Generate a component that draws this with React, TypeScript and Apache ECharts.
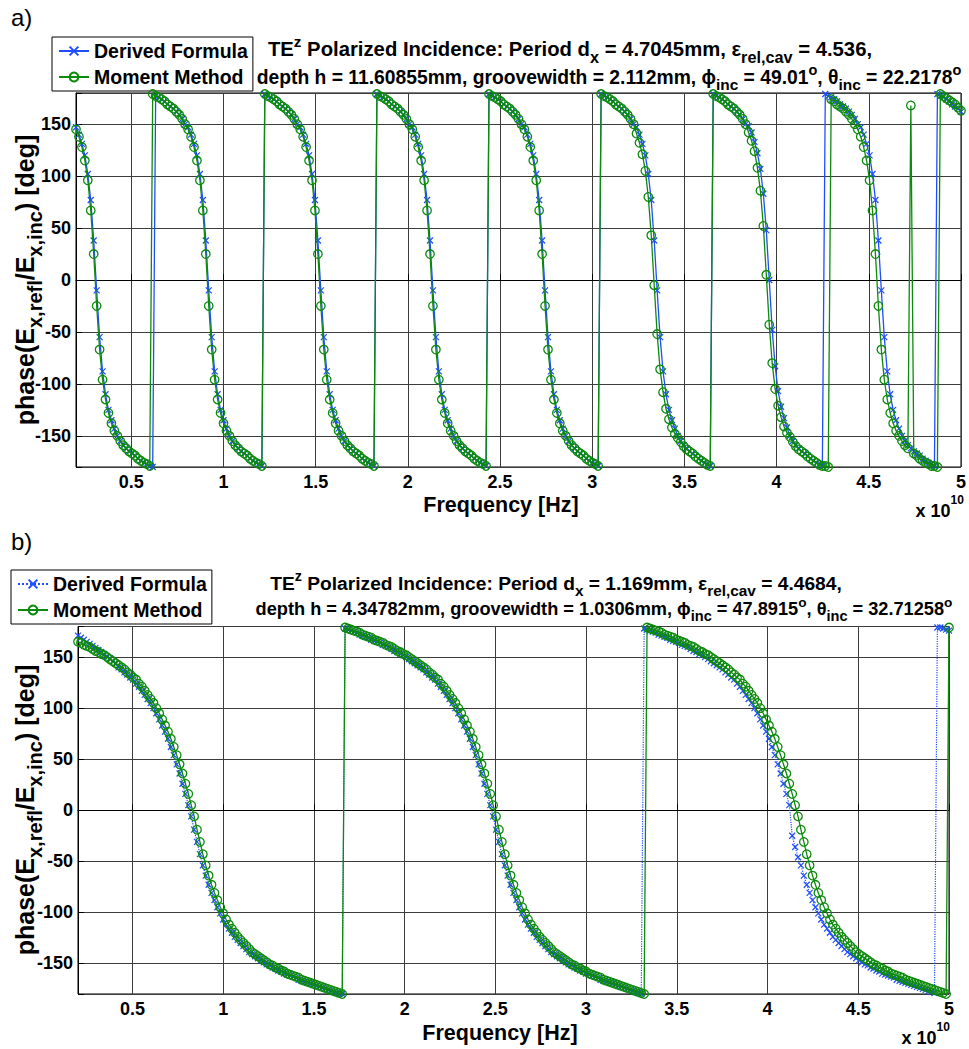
import React, { useEffect, useRef } from 'react';
import * as echarts from 'echarts';

// Frequency sweep (units of 10^10 Hz): 301 samples from 0.2 to 5.0
const FREQ_START = 0.2;
const FREQ_STEP = 0.016;
const N_POINTS = 301;

// Panel a) phase values [deg]
const DERIVED_A = [
  147,140,131,120,102,77,38,-10,-55,-88,-110,-125,-135,-143,
  -150,-155,-159,-162,-165,-167,-169,-172,-174,-176,-177,-179,
  -180,
  177,176,174,172,169,167,165,162,159,155,150,147,140,131,120,102,77,38,-10,-55,-88,-110,-125,-135,-143,-150,-155,-159,-162,-165,-167,-169,-172,-174,-176,-177,-179,
  179,177,176,174,172,169,167,165,162,159,155,150,147,140,131,120,102,77,38,-10,-55,-88,-110,-125,-135,-143,-150,-155,-159,-162,-165,-167,-169,-172,-174,-176,-177,-179,
  179,177,176,174,172,169,167,165,162,159,155,150,147,140,131,120,102,77,38,-10,-55,-88,-110,-125,-135,-143,-150,-155,-159,-162,-165,-167,-169,-172,-174,-176,-177,-179,
  179,177,176,174,172,169,167,165,162,159,155,150,147,140,131,120,102,77,38,-10,-55,-88,-110,-125,-135,-143,-150,-155,-159,-162,-165,-167,-169,-172,-174,-176,-177,-179,
  179,177,176,174,172,169,167,165,162,159,155,150,147,140,131,120,102,77,38,-10,-55,-88,-110,-125,-135,-143,-150,-155,-159,-162,-165,-167,-169,-172,-174,-176,-177,-179,
  179,177,176,174,172,169,167,165,162,159,155,150,148,142,133,122,107,83,48,0,-48,-83,-107,-122,-133,-142,-150,-155,-159,-162,-165,-167,-169,-172,-174,-176,-177,-179,
  179,177,176,174,172,169,167,165,162,159,155,150,147,140,131,120,102,77,38,-10,-55,-88,-110,-125,-135,-143,-150,-155,-159,-162,-165,-167,-169,-172,-174,-176,-177,-179,
  179,177,176,174,172,169,167,165,162,
];

const MOMENT_A = [
  145,138,128,115,96,67,25,-25,-67,-96,-115,-128,-138,-145,-150,-155,-159,-162,-165,-167,-169,-172,-174,-176,-177,-179,
  179,177,176,174,172,169,167,165,162,159,155,150,145,138,128,115,96,67,25,-25,-67,-96,-115,-128,-138,-145,-150,-155,-159,-162,-165,-167,-169,-172,-174,-176,-177,-179,
  179,177,176,174,172,169,167,165,162,159,155,150,145,138,128,115,96,67,25,-25,-67,-96,-115,-128,-138,-145,-150,-155,-159,-162,-165,-167,-169,-172,-174,-176,-177,-179,
  179,177,176,174,172,169,167,165,162,159,155,150,145,138,128,115,96,67,25,-25,-67,-96,-115,-128,-138,-145,-150,-155,-159,-162,-165,-167,-169,-172,-174,-176,-177,-179,
  179,177,176,174,172,169,167,165,162,159,155,150,145,138,128,115,96,67,25,-25,-67,-96,-115,-128,-138,-145,-150,-155,-159,-162,-165,-167,-169,-172,-174,-176,-177,-179,
  179,177,176,174,172,169,167,165,162,159,155,150,141,132,121,105,80,43,-5,-52,-86,-108,-124,-134,-142,-148,-152,-156,-160,-163,-165,-167,-170,-172,-174,-176,-178,-179,
  179,177,176,174,172,169,167,165,162,159,155,150,142,134,124,108,86,52,5,-43,-80,-105,-121,-132,-141,-147,-151,-156,-160,-163,-165,-167,-170,-172,-174,-176,-178,-179,
  -179,-180,
  174,172,169,167,165,162,159,155,150,145,138,128,115,96,67,25,-25,-67,-96,-115,-128,-138,-145,-150,-155,-159,-162,168,-167,-169,-172,-174,-176,-177,-179,
  -179,-180,179,177,175,173,171,169,166,163,
];

// Panel b) phase values [deg]
const DERIVED_B = [
  171,169,167,165,163,161,159,157,155,153,151,149,146,144,
  140,138,135,133,130,128,124,121,117,113,109,105,100,95,89,83,77,70,62,54,45,36,26,16,5,
  -6,-19,-31,-43,-54,-64,-73,-81,-88,-95,-101,-107,-112,-116,-120,-124,-127,-130,-133,-136,-139,-141,-143,-145,-147,-149,-151,-152,-154,-155,-157,-158,-160,-161,-162,-163,-164,-166,-167,-168,-169,-170,-171,-172,-173,-174,-175,-176,-177,-178,-179,-180,
  -180,
  178,177,176,175,174,172,171,170,169,167,166,165,164,162,161,160,158,156,155,153,152,150,148,146,144,142,140,138,135,133,130,128,124,121,117,113,109,105,100,95,89,83,77,70,62,54,45,36,26,16,5,
  -6,-19,-31,-43,-54,-64,-73,-81,-88,-95,-101,-107,-112,-116,-120,-124,-127,-130,-133,-136,-139,-141,-143,-145,-147,-149,-151,-152,-154,-155,-157,-158,-160,-161,-162,-163,-164,-166,-167,-168,-169,-170,-171,-172,-173,-174,-175,-176,-177,-178,-179,-180,
  178,177,176,175,174,172,171,170,169,167,166,165,164,162,161,160,158,156,155,153,152,150,148,146,144,142,140,138,135,133,130,128,124,121,117,113,109,105,100,95,89,83,77,70,62,54,45,36,26,16,5,
  -25,-36,-46,
  -54,-64,-73,-81,-88,-95,-101,-107,-112,-116,-120,-124,-127,-130,-133,-136,-139,-141,-143,-145,-147,-149,-151,-152,-154,-155,-157,-158,-160,-161,-162,-163,-164,-166,-167,-168,-169,-170,-171,-172,-173,-174,-175,-176,-177,-178,-179,
  179,179,178,177,176,
];

const MOMENT_B = [
  165,164,162,161,160,158,156,155,153,152,150,148,146,144,142,140,138,135,133,130,128,124,121,117,113,109,105,100,95,89,83,77,70,62,54,45,36,26,16,5,
  -6,-19,-31,-43,-54,-64,-73,-81,-88,-95,-101,-107,-112,-116,-120,-124,-127,-130,-133,-136,-139,-141,-143,-145,-147,-149,-151,-152,-154,-155,-157,-158,-160,-161,-162,-163,-164,-166,-167,-168,-169,-170,-171,-172,-173,-174,-175,-176,-177,-178,-179,-180,
  179,178,177,176,175,174,172,171,170,169,167,166,165,164,162,161,160,158,156,155,153,152,150,148,146,144,142,140,138,135,133,130,128,124,121,117,113,109,105,100,95,89,83,77,70,62,54,45,36,26,16,5,
  -6,-19,-31,-43,-54,-64,-73,-81,-88,-95,-101,-107,-112,-116,-120,-124,-127,-130,-133,-136,-139,-141,-143,-145,-147,-149,-151,-152,-154,-155,-157,-158,-160,-161,-162,-163,-164,-166,-167,-168,-169,-170,-171,-172,-173,-174,-175,-176,-177,-178,-179,-180,
  179,178,177,176,175,174,172,171,170,169,167,166,165,164,162,161,160,158,156,155,153,152,150,148,146,144,142,140,138,135,133,130,128,124,121,117,113,109,105,100,95,89,83,77,70,62,54,45,36,26,16,5,
  -6,-19,-31,-43,-54,-64,-73,-81,-88,-95,-101,-107,-112,-116,-120,-124,-127,-130,-133,-136,-139,-141,-143,-145,-147,-149,-151,-152,-154,-155,-157,-158,-160,-161,-162,-163,-164,-166,-167,-168,-169,-170,-171,-172,-173,-174,-175,-176,-177,-178,-179,-180,
  179,
];

const X_TICK_LABELS = ['0.5', '1', '1.5', '2', '2.5', '3', '3.5', '4', '4.5', '5'];
const Y_TICK_LABELS = ['-150', '-100', '-50', '0', '50', '100', '150'];
const SERIES_NAMES = ['Derived Formula', 'Moment Method'];

const FONT = '"Liberation Sans", Arial, Helvetica, sans-serif';
const BLUE = '#1f4dff';
const GREEN = '#0b8a0b';
const X_SYMBOL = 'path://M0,0L10,10M10,0L0,10';

function makeRich(F: number, subRatio = 0.8, supRatio = 0.75, supRaise = 0.38, subDrop = 0.4) {
  return {
    n: { fontFamily: FONT, fontWeight: 'bold', fontSize: F, fill: '#000' },
    sub: { fontFamily: FONT, fontWeight: 'bold', fontSize: F * subRatio, fill: '#000', padding: [F * subDrop * 2, 0, 0, 0] },
    sup: { fontFamily: FONT, fontWeight: 'bold', fontSize: F * supRatio, fill: '#000', padding: [0, 0, F * supRaise * 2, 0] },
  };
}

function richText(
  x: number,
  y: number,
  parts: Array<[string, string]>,
  F: number,
  align = 'left',
  rotation = 0,
  richOpts?: { subRatio?: number; supRatio?: number; supRaise?: number; subDrop?: number },
) {
  const o = richOpts || {};
  return {
    type: 'text',
    x,
    y,
    rotation,
    silent: true,
    style: {
      text: parts.map(([t, s]) => `{${s}|${t}}`).join(''),
      rich: makeRich(F, o.subRatio, o.supRatio, o.supRaise, o.subDrop),
      fill: '#000',
      align,
      verticalAlign: 'middle',
      textAlign: align,
      textVerticalAlign: 'middle',
    },
  };
}

function pairs(values: number[]) {
  const out: number[][] = [];
  for (let i = 0; i < values.length && i < N_POINTS; i++) {
    out.push([+(FREQ_START + FREQ_STEP * i).toFixed(3), values[i]]);
  }
  return out;
}

function xAxis(gridIndex: number) {
  return {
    type: 'value',
    gridIndex,
    min: 0.2,
    max: 5,
    splitNumber: 10,
    axisLine: { show: true, lineStyle: { color: '#000', width: 1 } },
    axisTick: { show: true, inside: true, length: 6, lineStyle: { color: '#000' } },
    axisLabel: {
      color: '#000',
      fontFamily: FONT,
      fontWeight: 'bold',
      fontSize: 18,
      margin: 6,
      formatter: (v: number) => {
        const s = String(+v.toFixed(3));
        return X_TICK_LABELS.includes(s) ? s : '';
      },
    },
    splitLine: { show: true, lineStyle: { color: '#3c3c3c', width: 1 } },
  };
}

function yAxis(gridIndex: number) {
  return {
    type: 'value',
    gridIndex,
    min: -180,
    max: 180,
    splitNumber: 7,
    axisLine: { show: true, lineStyle: { color: '#000', width: 1 } },
    axisTick: { show: true, inside: true, length: 6, lineStyle: { color: '#000' } },
    axisLabel: {
      color: '#000',
      fontFamily: FONT,
      fontWeight: 'bold',
      fontSize: 18,
      margin: 5,
      formatter: (v: number) => {
        const s = String(Math.round(v));
        return Y_TICK_LABELS.includes(s) ? s : '';
      },
    },
    splitLine: { show: true, lineStyle: { color: '#3c3c3c', width: 1 } },
  };
}

function derivedSeries(name: string, idx: number, values: number[], dotted: boolean) {
  return {
    name,
    type: 'line',
    xAxisIndex: idx,
    yAxisIndex: idx,
    data: pairs(values),
    symbol: X_SYMBOL,
    symbolSize: 6,
    showAllSymbol: true,
    silent: true,
    emphasis: { disabled: true },
    itemStyle: { color: BLUE, borderColor: BLUE, borderWidth: 1.2 },
    lineStyle: { color: BLUE, width: dotted ? 1.2 : 1.3, type: dotted ? 'dotted' : 'solid' },
    z: 3,
  };
}

function momentSeries(name: string, idx: number, values: number[]) {
  return {
    name,
    type: 'line',
    xAxisIndex: idx,
    yAxisIndex: idx,
    data: pairs(values),
    symbol: 'circle',
    symbolSize: 8.5,
    showAllSymbol: true,
    silent: true,
    emphasis: { disabled: true },
    itemStyle: { color: 'rgba(0,0,0,0)', borderColor: GREEN, borderWidth: 1.3 },
    lineStyle: { color: GREEN, width: 1.3, type: 'solid' },
    z: 4,
  };
}

function legend(left: number, top: number, names: string[]) {
  return {
    left,
    top,
    orient: 'vertical',
    data: names,
    selectedMode: false,
    backgroundColor: '#fff',
    borderColor: '#000',
    borderWidth: 1,
    borderRadius: 0,
    padding: [4, 5, 4, 6],
    itemGap: 6,
    itemWidth: 30,
    itemHeight: 11,
    formatter: (n: string) => n.trim(),
    textStyle: { color: '#000', fontFamily: FONT, fontWeight: 'bold', fontSize: 19.5 },
  };
}

export default function App() {
  const ref = useRef<HTMLDivElement>(null);
  useEffect(() => {
    if (!ref.current) return;
    const chart = echarts.init(ref.current, undefined, { renderer: 'svg' });
    const nameA = SERIES_NAMES;
    const nameB = SERIES_NAMES.map((n) => n + ' ');
    const yLabel: Array<[string, string]> = [['phase(E', 'n'], ['x,refl', 'sub'], ['/E', 'n'], ['x,inc', 'sub'], [') [deg]', 'n']];
    const option = {
      animation: false,
      backgroundColor: '#fff',
      textStyle: { fontFamily: FONT },
      grid: [
        { left: 76, top: 93, width: 888, height: 374, show: true, borderColor: '#000', borderWidth: 1, backgroundColor: 'transparent' },
        { left: 78, top: 626.5, width: 871, height: 367.5, show: true, borderColor: '#000', borderWidth: 1, backgroundColor: 'transparent' },
      ],
      xAxis: [xAxis(0), xAxis(1)],
      yAxis: [yAxis(0), yAxis(1)],
      legend: [legend(52, 37, nameA), legend(11, 570, nameB)],
      series: [
        derivedSeries(nameA[0], 0, DERIVED_A, false),
        momentSeries(nameA[1], 0, MOMENT_A),
        derivedSeries(nameB[0], 1, DERIVED_B, true),
        momentSeries(nameB[1], 1, MOMENT_B),
      ],
      graphic: [
        { type: 'text', x: 11, y: 17, silent: true, style: { text: 'a)', fill: '#000', fontFamily: FONT, fontSize: 24, align: 'left', verticalAlign: 'middle', textAlign: 'left', textVerticalAlign: 'middle' } },
        { type: 'text', x: 11, y: 541, silent: true, style: { text: 'b)', fill: '#000', fontFamily: FONT, fontSize: 24, align: 'left', verticalAlign: 'middle', textAlign: 'left', textVerticalAlign: 'middle' } },
        richText(570, 49, [['TE', 'n'], ['z', 'sup'], [' Polarized Incidence: Period d', 'n'], ['x', 'sub'], [' = 4.7045mm, \u03b5', 'n'], ['rel,cav', 'sub'], [' = 4.536,', 'n']], 20.3, 'center'),
        richText(609, 77, [['depth h = 11.60855mm, groovewidth = 2.112mm, \u03d5', 'n'], ['inc', 'sub'], [' = 49.01', 'n'], ['o', 'sup'], [', \u03b8', 'n'], ['inc', 'sub'], [' = 22.2178', 'n'], ['o', 'sup']], 19.3, 'center'),
        richText(556, 583, [['TE', 'n'], ['z', 'sup'], [' Polarized Incidence: Period d', 'n'], ['x', 'sub'], [' = 1.169mm, \u03b5', 'n'], ['rel,cav', 'sub'], [' = 4.4684,', 'n']], 19.2, 'center'),
        richText(604, 609, [['depth h = 4.34782mm, groovewidth = 1.0306mm, \u03d5', 'n'], ['inc', 'sub'], [' = 47.8915', 'n'], ['o', 'sup'], [', \u03b8', 'n'], ['inc', 'sub'], [' = 32.71258', 'n'], ['o', 'sup']], 18.2, 'center'),
        richText(25, 280, yLabel, 25, 'center', Math.PI / 2),
        richText(25, 810, yLabel, 25, 'center', Math.PI / 2),
        richText(501, 505, [['Frequency [Hz]', 'n']], 21.5, 'center'),
        richText(500, 1033, [['Frequency [Hz]', 'n']], 21.5, 'center'),
        richText(964, 511, [['x 10', 'n'], ['10', 'sup']], 18, 'right', 0, { supRatio: 0.67, supRaise: 0.6 }),
        richText(950, 1038, [['x 10', 'n'], ['10', 'sup']], 18, 'right', 0, { supRatio: 0.67, supRaise: 0.6 }),
      ],
    };
    chart.setOption(option as any);
    return () => chart.dispose();
  }, []);
  return (
    <div
      ref={ref}
      style={{ position: 'absolute', left: 0, top: 0, width: 969, height: 1049, background: '#fff' }}
    />
  );
}
